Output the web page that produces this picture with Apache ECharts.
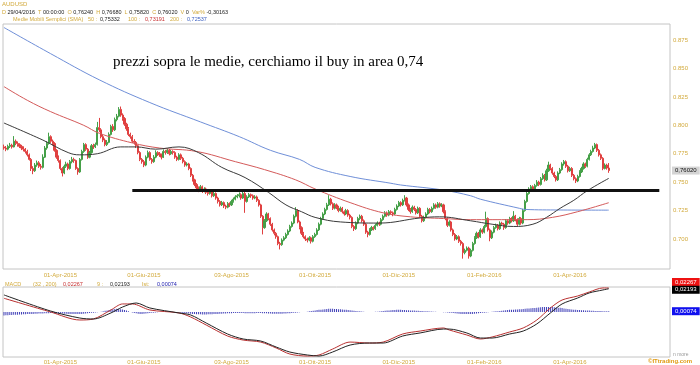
<!DOCTYPE html>
<html><head><meta charset="utf-8">
<script src="https://cdn.jsdelivr.net/npm/echarts@6/dist/echarts.min.js"></script>
<style>html,body{margin:0;padding:0;background:#fff}#c{width:700px;height:365px}</style>
</head><body><div id="c"></div>
<script>
// ---------- DATA ----------
const startDate = '2015-02-19';
const slotCount = 343; // trading-day slots on the x axis (data + empty right margin)
const tickLabels = ['01-Apr-2015','01-Giu-2015','03-Ago-2015','01-Ott-2015','01-Dic-2015','01-Feb-2016','01-Apr-2016'];
const priceTicks = [0.700,0.725,0.750,0.775,0.800,0.825,0.850,0.875];
// daily candles [open, close, low, high] in pips (x 0.0001)
const candles = [
[7810,7800,7785,7830],[7800,7790,7772,7818],[7790,7815,7780,7830],[7815,7825,7800,7845],[7825,7810,7795,7838],[7810,7860,7805,7905],
[7860,7840,7825,7875],[7840,7830,7812,7858],[7830,7815,7800,7842],[7815,7800,7782,7828],[7800,7790,7770,7815],[7790,7770,7752,7800],
[7770,7740,7725,7785],[7740,7700,7690,7752],[7700,7620,7598,7712],[7620,7600,7570,7640],[7600,7650,7590,7668],[7650,7670,7635,7690],
[7670,7640,7625,7685],[7640,7630,7610,7660],[7630,7720,7620,7745],[7720,7800,7712,7818],[7800,7840,7785,7860],[7840,7900,7830,7935],
[7900,7860,7845,7912],[7860,7840,7822,7875],[7840,7780,7768,7852],[7780,7720,7705,7790],[7720,7690,7672,7735],[7690,7620,7605,7700],
[7620,7580,7550,7632],[7580,7640,7570,7655],[7640,7660,7625,7680],[7660,7620,7605,7672],[7620,7680,7610,7695],[7680,7700,7665,7722],
[7700,7690,7670,7715],[7690,7620,7608,7698],[7620,7590,7565,7630],[7590,7700,7582,7712],[7700,7770,7690,7785],[7770,7830,7758,7845],
[7830,7790,7775,7842],[7790,7720,7705,7800],[7720,7760,7710,7775],[7760,7820,7750,7835],[7820,7810,7792,7838],[7810,7830,7800,7848],
[7830,7980,7822,8030],[7980,7960,7940,8065],[7960,7900,7885,7975],[7900,7870,7852,7915],[7870,7830,7815,7885],[7830,7850,7818,7870],
[7850,7920,7842,7938],[7920,7990,7910,8005],[7990,7960,7942,8010],[7960,8050,7950,8068],[8050,8080,8035,8100],[8080,8140,8070,8160],
[8140,8090,8075,8165],[8090,8060,8040,8105],[8060,8010,7995,8072],[8010,7970,7952,8022],[7970,7920,7905,7985],[7920,7900,7882,7935],
[7900,7860,7845,7915],[7860,7850,7830,7878],[7850,7820,7800,7862],[7820,7760,7745,7830],[7760,7700,7685,7772],[7700,7680,7662,7712],
[7680,7650,7632,7695],[7650,7720,7640,7735],[7720,7760,7710,7778],[7760,7700,7688,7772],[7700,7680,7662,7712],[7680,7720,7670,7738],
[7720,7760,7710,7780],[7760,7750,7730,7772],[7750,7740,7722,7765],[7740,7720,7700,7752],[7720,7770,7712,7788],[7770,7760,7742,7782],
[7760,7780,7748,7798],[7780,7750,7735,7792],[7750,7770,7740,7785],[7770,7760,7742,7780],[7760,7720,7705,7772],[7720,7700,7685,7732],
[7700,7740,7690,7755],[7740,7710,7695,7752],[7710,7680,7665,7722],[7680,7650,7635,7692],[7650,7660,7638,7675],[7660,7620,7605,7670],
[7620,7560,7545,7630],[7560,7520,7505,7572],[7520,7480,7465,7530],[7480,7450,7432,7492],[7450,7430,7412,7462],[7430,7460,7420,7475],
[7460,7420,7405,7470],[7420,7440,7410,7455],[7440,7410,7395,7452],[7410,7400,7382,7422],[7400,7420,7390,7435],[7420,7380,7365,7430],
[7380,7400,7370,7415],[7400,7360,7345,7410],[7360,7330,7312,7372],[7330,7300,7285,7342],[7300,7320,7290,7335],[7320,7290,7272,7330],
[7290,7280,7262,7302],[7280,7310,7270,7325],[7310,7300,7282,7322],[7300,7330,7290,7345],[7330,7350,7320,7365],[7350,7370,7340,7385],
[7370,7380,7358,7395],[7380,7390,7365,7410],[7390,7360,7345,7402],[7360,7400,7352,7415],[7400,7330,7230,7420],[7330,7370,7320,7385],
[7370,7390,7360,7405],[7390,7380,7362,7400],[7380,7360,7345,7392],[7360,7370,7350,7385],[7370,7340,7325,7382],[7340,7300,7285,7350],
[7300,7200,7185,7310],[7200,7100,7040,7210],[7100,7160,7090,7175],[7160,7220,7150,7235],[7220,7180,7165,7230],[7180,7130,7115,7190],
[7130,7080,7065,7142],[7080,7050,7032,7092],[7050,7020,7002,7062],[7020,6960,6945,7030],[6960,6950,6908,6975],[6950,6990,6940,7005],
[6990,7010,6980,7025],[7010,7040,7000,7055],[7040,7070,7030,7085],[7070,7110,7060,7125],[7110,7140,7100,7155],[7140,7200,7130,7215],
[7200,7250,7190,7280],[7250,7150,7138,7262],[7150,7100,7085,7162],[7100,7050,7035,7112],[7050,7020,7005,7062],[7020,7000,6982,7032],
[7000,6990,6970,7012],[6990,7010,6980,7025],[7010,6980,6960,7020],[6980,7020,6970,7035],[7020,7040,7010,7055],[7040,7080,7030,7095],
[7080,7130,7070,7145],[7130,7180,7120,7195],[7180,7220,7170,7235],[7220,7260,7210,7275],[7260,7300,7250,7318],[7300,7350,7290,7385],
[7350,7310,7295,7362],[7310,7270,7255,7322],[7270,7300,7260,7315],[7300,7280,7262,7312],[7280,7250,7235,7292],[7250,7270,7240,7285],
[7270,7240,7225,7282],[7240,7220,7205,7252],[7220,7250,7210,7265],[7250,7210,7195,7262],[7210,7190,7172,7222],[7190,7110,7095,7200],
[7110,7090,7070,7122],[7090,7140,7080,7155],[7140,7180,7130,7195],[7180,7200,7165,7215],[7200,7160,7145,7212],[7160,7130,7115,7172],
[7130,7060,7045,7140],[7060,7040,7015,7072],[7040,7080,7030,7095],[7080,7100,7070,7115],[7100,7090,7075,7112],[7090,7120,7080,7135],
[7120,7140,7110,7155],[7140,7130,7115,7152],[7130,7170,7120,7185],[7170,7200,7160,7215],[7200,7230,7190,7245],[7230,7210,7195,7242],
[7210,7240,7200,7255],[7240,7230,7215,7252],[7230,7220,7200,7242],[7220,7260,7210,7275],[7260,7290,7250,7305],[7290,7320,7280,7335],
[7320,7300,7285,7332],[7300,7340,7290,7355],[7340,7360,7330,7385],[7360,7300,7285,7370],[7300,7260,7245,7312],[7260,7240,7222,7272],
[7240,7280,7230,7295],[7280,7260,7245,7292],[7260,7230,7215,7272],[7230,7270,7220,7285],[7270,7200,7185,7280],[7200,7160,7145,7212],
[7160,7190,7150,7205],[7190,7220,7180,7235],[7220,7260,7210,7275],[7260,7240,7225,7272],[7240,7270,7230,7285],[7270,7300,7260,7315],
[7300,7280,7265,7312],[7280,7310,7270,7325],[7310,7290,7275,7322],[7290,7300,7280,7315],[7300,7240,7225,7310],[7240,7180,7165,7252],
[7180,7120,7105,7192],[7120,7150,7110,7165],[7150,7080,7065,7160],[7080,7040,7025,7092],[7040,7000,6985,7052],[7000,7020,6990,7035],
[7020,6980,6965,7032],[6980,6960,6942,6992],[6960,6880,6827,6972],[6880,6900,6865,6915],[6900,6920,6890,6935],[6920,6850,6827,6932],
[6850,6900,6840,6915],[6900,6960,6890,6975],[6960,7010,6950,7025],[7010,7050,7000,7065],[7050,7020,7005,7062],[7020,7080,7010,7095],
[7080,7060,7045,7092],[7060,7110,7050,7125],[7110,7180,7100,7240],[7180,7080,7065,7190],[7080,7010,6980,7092],[7010,7060,7000,7075],
[7060,7100,7050,7115],[7100,7120,7090,7135],[7120,7090,7075,7132],[7090,7140,7080,7155],[7140,7130,7115,7152],[7130,7100,7080,7142],
[7100,7160,7090,7175],[7160,7140,7125,7172],[7140,7180,7130,7195],[7180,7160,7145,7192],[7160,7200,7150,7245],[7200,7170,7155,7212],
[7170,7130,7115,7182],[7130,7180,7120,7195],[7180,7140,7125,7192],[7140,7250,7130,7265],[7250,7330,7240,7345],[7330,7400,7320,7415],
[7400,7440,7390,7455],[7440,7460,7425,7475],[7460,7440,7425,7472],[7440,7470,7430,7485],[7470,7500,7460,7518],[7500,7480,7465,7512],
[7480,7530,7470,7545],[7530,7560,7520,7578],[7560,7520,7505,7572],[7520,7600,7510,7618],[7600,7650,7590,7680],[7650,7620,7605,7662],
[7620,7580,7565,7632],[7580,7550,7535,7592],[7550,7520,7505,7562],[7520,7580,7510,7595],[7580,7610,7570,7625],[7610,7660,7600,7675],
[7660,7680,7645,7695],[7680,7640,7625,7692],[7640,7600,7585,7652],[7600,7620,7590,7635],[7620,7560,7545,7632],[7560,7530,7515,7572],
[7530,7510,7492,7542],[7510,7550,7500,7565],[7550,7590,7540,7605],[7590,7620,7580,7635],[7620,7660,7610,7675],[7660,7640,7625,7672],
[7640,7700,7630,7715],[7700,7740,7690,7755],[7740,7770,7730,7785],[7770,7800,7760,7820],[7800,7830,7790,7845],[7830,7780,7765,7840],
[7780,7740,7725,7792],[7740,7710,7695,7752],[7710,7620,7605,7720],[7620,7650,7612,7665],[7650,7624,7610,7662],[7624,7602,7582,7668]
];
// moving averages: [slot index, value]
const sma200 = [[0,0.886],[24,0.863],[49,0.840],[75,0.820],[101,0.803],[121,0.790],[137,0.778],[152,0.770],[160,0.763],[178,0.755],[199,0.749],[204,0.7475],[226,0.743],[240,0.738],[245,0.735],[265,0.727],[268,0.726],[286,0.7255],[311,0.72537]];
const sma100 = [[0,0.834],[12,0.822],[24,0.812],[41,0.800],[49,0.793],[66,0.7845],[80,0.780],[99,0.777],[119,0.768],[134,0.761],[150,0.752],[160,0.744],[178,0.732],[195,0.723],[209,0.7195],[226,0.718],[240,0.717],[251,0.717],[269,0.717],[282,0.719],[295,0.724],[311,0.73191]];
const sma50 = [[0,0.802],[20,0.787],[33,0.776],[39,0.774],[48,0.775],[60,0.781],[68,0.781],[78,0.779],[90,0.781],[100,0.776],[112,0.763],[124,0.754],[136,0.741],[145,0.730],[153,0.724],[160,0.719],[173,0.715],[193,0.714],[214,0.7185],[224,0.7195],[240,0.716],[251,0.713],[262,0.711],[272,0.713],[279,0.719],[286,0.727],[293,0.734],[300,0.7425],[311,0.75332]];
const supportLevel = 0.7425;
const supportFrom = 66, supportTo = 337;
// MACD (32,200), signal 9
const macdLine = [[0,0.01295],[24,0],[39,-0.00756],[46,-0.0066],[55,0.0019],[61,0.0076],[66,0.0076],[75,0.0019],[90,-0.0009],[96,-0.0047],[104,-0.0123],[115,-0.0227],[123,-0.0265],[132,-0.0284],[140,-0.034],[147,-0.0397],[156,-0.0416],[162,-0.0406],[169,-0.035],[178,-0.0284],[188,-0.0293],[195,-0.0284],[205,-0.0208],[214,-0.018],[226,-0.0151],[229,-0.017],[238,-0.0217],[245,-0.0255],[251,-0.0236],[260,-0.0189],[267,-0.0151],[274,-0.0076],[281,0.0038],[287,0.0113],[295,0.0151],[301,0.0189],[308,0.0227],[311,0.02267]];
const signalLine = [[0,0.0161],[24,0.0009],[39,-0.0057],[46,-0.0066],[55,-0.0009],[61,0.0047],[68,0.0085],[75,0.0038],[90,-0.0009],[96,-0.0028],[104,-0.0104],[115,-0.0208],[123,-0.0255],[132,-0.0274],[140,-0.0331],[147,-0.0378],[156,-0.0406],[162,-0.0416],[169,-0.0378],[178,-0.0312],[188,-0.0293],[195,-0.0293],[205,-0.0227],[214,-0.0198],[226,-0.0161],[229,-0.0161],[238,-0.0198],[245,-0.0246],[251,-0.0246],[260,-0.0208],[267,-0.018],[274,-0.0113],[281,-0.0009],[287,0.0076],[295,0.0132],[301,0.018],[308,0.0208],[311,0.02193]];
// histogram (x 0.0001)
const histogram = [
-32,-31,-30,-29,-28,-27,-26,-25,-24,-23,-22,-21,-20,-19,-18,-18,-17,-16,-15,-14,-14,-13,-12,-11,-10,
-10,-11,-12,-13,-14,-15,-16,-17,-18,-18,-19,-19,-19,-19,-19,-18,-16,-14,-12,-10,-8,-6,-4,-2,0,
3,7,11,15,19,23,26,28,30,
29,27,24,19,13,7,1,
-4,-9,-13,-16,-18,-18,-17,-15,-13,-10,
-8,-6,-4,-2,-1,0,1,2,2,2,1,0,-1,-3,-5,-7,-9,-11,-13,-15,
-17,-19,-20,-21,-22,-22,-23,-23,-23,-22,-22,-21,-20,-19,-18,-17,-16,-15,-14,-13,-12,-11,-10,-10,-10,-10,-10,-10,-11,-12,
-12,-12,-12,-11,-10,-10,-10,-11,-12,-13,-14,-15,-16,-17,-17,-17,-17,-16,-15,-14,-13,-12,-10,-8,-6,-4,-2,-1,0,1,
3,6,9,12,15,18,20,22,24,26,28,30,30,30,29,28,27,26,24,22,20,18,16,14,12,10,8,6,4,2,
0,-1,-1,0,1,2,3,5,7,9,11,13,15,17,18,19,20,20,20,19,18,17,16,15,14,13,12,11,10,9,
8,7,6,5,4,3,2,1,0,-1,-2,-3,-4,-6,-8,-10,-12,-14,-16,-18,-19,-20,-20,-20,-19,-18,-16,-14,-12,-10,
-8,-6,-4,-2,0,2,4,6,8,10,12,14,16,18,20,21,22,23,24,25,26,28,30,32,34,36,37,38,40,42,
44,46,47,47,47,47,46,45,43,41,39,37,34,31,28,26,24,22,20,19,18,17,16,15,14,13,12,11,10,10,9,9,8,8,7,7
];
const lastQuote = {o:'0,76240', h:'0,76680', l:'0,75820', c:'0,76020', date:'29/04/2016', time:'00:00:00', v:'0', varPct:'-0,30163'};
const smaLabels = {s50:'0,75332', s100:'0,73191', s200:'0,72537'};
const macdLabels = {macd:'0,02267', sig:'0,02193', hist:'0,00074'};
const lastClose = 0.7602, lastMacd = 0.02267, lastSignal = 0.02193, lastHist = 0.00074;

// ---------- BUILD ----------
const MONTHS = ['Gen','Feb','Mar','Apr','Mag','Giu','Lug','Ago','Set','Ott','Nov','Dic'];
function buildDates(start, n) {
  const out = []; let t = Date.parse(start + 'T00:00:00Z');
  while (out.length < n) {
    const d = new Date(t), wd = d.getUTCDay();
    if (wd !== 0 && wd !== 6) out.push(String(d.getUTCDate()).padStart(2,'0') + '-' + MONTHS[d.getUTCMonth()] + '-' + d.getUTCFullYear());
    t += 86400000;
  }
  return out;
}
const dates = buildDates(startDate, slotCount);
const GOLD = '#d2aa3c', FONT = 'Liberation Sans, Arial, sans-serif';
const UP = '#45a048', DOWN = '#e04040';

const chart = echarts.init(document.getElementById('c'));
const xCommon = {
  type: 'category', data: dates, boundaryGap: true,
  axisLine: {show: false}, axisTick: {show: false}, splitLine: {show: false},
  axisLabel: {interval: (i, v) => tickLabels.includes(v), color: GOLD, fontSize: 6, fontFamily: FONT, margin: 3}
};
chart.setOption({
  animation: false,
  grid: [
    {left: 3, width: 667, top: 24, height: 245, show: true, borderColor: '#c4c4c4', borderWidth: 1, backgroundColor: '#fff'},
    {left: 3, width: 667, top: 287, height: 70, show: true, borderColor: '#c4c4c4', borderWidth: 1, backgroundColor: '#fff'}
  ],
  xAxis: [Object.assign({gridIndex: 0}, xCommon), Object.assign({gridIndex: 1}, xCommon, {axisLabel: Object.assign({}, xCommon.axisLabel, {margin: 2})})],
  yAxis: [
    {gridIndex: 0, position: 'right', min: 0.6736, max: 0.8891, scale: true,
     axisLine: {show: false}, axisTick: {show: false}, splitLine: {show: false},
     axisLabel: {customValues: priceTicks, formatter: v => v.toFixed(3), color: GOLD, fontSize: 6, fontFamily: FONT, margin: 3}},
    {gridIndex: 1, position: 'right', min: -0.0425, max: 0.0236,
     axisLine: {show: false}, axisTick: {show: false}, splitLine: {show: false}, axisLabel: {show: false}}
  ],
  series: [
    {type: 'candlestick', xAxisIndex: 0, yAxisIndex: 0, barWidth: 1.6,
     data: candles.map(r => r.map(v => v / 10000)),
     itemStyle: {color: UP, color0: DOWN, borderColor: UP, borderColor0: DOWN, borderWidth: 1},
     markLine: {silent: true, symbol: 'none', animation: false,
       data: [[{coord: [supportFrom, supportLevel]}, {coord: [supportTo, supportLevel]}]],
       lineStyle: {color: '#111', width: 3, type: 'solid'}, label: {show: false}}},
    {type: 'line', name: 'SMA200', data: sma200, xAxisIndex: 0, yAxisIndex: 0, showSymbol: false, smooth: 0.4, lineStyle: {color: '#6f8fd8', width: 1}},
    {type: 'line', name: 'SMA100', data: sma100, xAxisIndex: 0, yAxisIndex: 0, showSymbol: false, smooth: 0.4, lineStyle: {color: '#d45a5a', width: 1}},
    {type: 'line', name: 'SMA50', data: sma50, xAxisIndex: 0, yAxisIndex: 0, showSymbol: false, smooth: 0.4, lineStyle: {color: '#3a3a3a', width: 1}},
    {type: 'bar', name: 'Ist', data: histogram.map(v => v / 10000), xAxisIndex: 1, yAxisIndex: 1, barWidth: 1, itemStyle: {color: '#4040b8'}},
    {type: 'line', name: 'MACD', data: macdLine, xAxisIndex: 1, yAxisIndex: 1, showSymbol: false, smooth: 0.3, lineStyle: {color: '#b83030', width: 1}},
    {type: 'line', name: 'Signal', data: signalLine, xAxisIndex: 1, yAxisIndex: 1, showSymbol: false, smooth: 0.3, lineStyle: {color: '#222', width: 1}}
  ]
});

function tag(y, text, bg, fg) {
  return {type: 'text', x: 672, y: y, z: 100,
    style: {text: text, fill: fg, backgroundColor: bg, padding: [1, 3, 1, 3], font: '6px ' + FONT, verticalAlign: 'middle', align: 'left'}};
}
function txt(x, y, text, color, size, extra) {
  return Object.assign({type: 'text', x: x, y: y, z: 100,
    style: {text: text, fill: color, font: (size || 6) + 'px ' + FONT, verticalAlign: 'middle', align: 'left'}}, extra || {});
}
const yPrice = chart.convertToPixel({yAxisIndex: 0}, lastClose);
const yMacd = chart.convertToPixel({yAxisIndex: 1}, lastMacd);
const ySig = chart.convertToPixel({yAxisIndex: 1}, lastSignal);
const yHist = chart.convertToPixel({yAxisIndex: 1}, lastHist);
const q = lastQuote;
chart.setOption({
  graphic: [
    txt(2, 4.5, 'AUDUSD', GOLD, 6),
    {type: 'text', x: 2, y: 12.5, z: 100, style: {
      text: '{g|D} ' + q.date + '  {g|T} ' + q.time + '  {g|O} ' + q.o + '  {g|H} ' + q.h + '  {g|L} ' + q.l + '  {g|C} ' + q.c + '  {g|V} ' + q.v + '  {g|Var%} ' + q.varPct,
      fill: '#222', font: '5.5px ' + FONT, verticalAlign: 'middle', rich: {g: {fill: GOLD, font: '5.5px ' + FONT}}}},
    txt(13, 19.5, 'Medie Mobili Semplici (SMA)', GOLD, 5.5),
    txt(88, 19.5, '50 :', GOLD, 5.5), txt(100, 19.5, smaLabels.s50, '#222', 5.5),
    txt(128, 19.5, '100 :', GOLD, 5.5), txt(145, 19.5, smaLabels.s100, '#c83030', 5.5),
    txt(170, 19.5, '200 :', GOLD, 5.5), txt(187, 19.5, smaLabels.s200, '#3a5fc0', 5.5),
    {type: 'text', x: 113, y: 62, z: 100, style: {text: 'prezzi sopra le medie, cerchiamo il buy in area 0,74', fill: '#000', font: '15px "Liberation Serif", "Times New Roman", serif', verticalAlign: 'middle'}},
    txt(5, 284, 'MACD', GOLD, 5.5), txt(33, 284, '(32 , 200)', GOLD, 5.5), txt(63, 284, macdLabels.macd, '#c83030', 5.5),
    txt(97, 284, '9 :', GOLD, 5.5), txt(110, 284, macdLabels.sig, '#222', 5.5),
    txt(142, 284, 'Ist:', GOLD, 5.5), txt(157, 284, macdLabels.hist, '#2020b0', 5.5),
    tag(yPrice, q.c, '#d4d4d4', '#111'),
    tag(yMacd - 6, macdLabels.macd, '#ee1111', '#fff'),
    tag(ySig + 1, macdLabels.sig, '#000', '#fff'),
    tag(yHist, macdLabels.hist, '#1010ee', '#fff'),
    txt(673, 355, 'n more', '#999', 5),
    txt(648, 361, '\u00a9ITtrading.com', '#e09a10', 6, {style: {text: '\u00a9ITtrading.com', fill: '#e09a10', font: 'bold 6px ' + FONT, verticalAlign: 'middle', align: 'left'}})
  ]
});
</script></body></html>
